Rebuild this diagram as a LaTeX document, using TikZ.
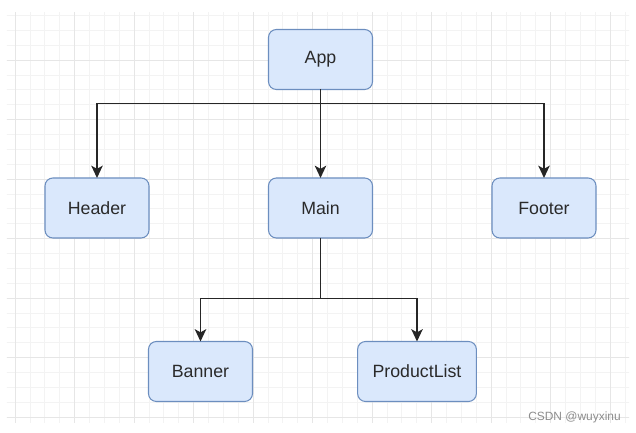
\documentclass[tikz,border=0pt]{standalone}
\usepackage{fontspec}
\setmainfont{Liberation Sans}
\usepackage{tkz-graph}
\usetikzlibrary{arrows.meta}
\definecolor{boxfill}{HTML}{DAE8FC}
\definecolor{boxline}{HTML}{6C8EBF}
\definecolor{boxtext}{HTML}{2A2A2A}
\definecolor{gridminor}{HTML}{F3F3F3}
\definecolor{gridmajor}{HTML}{E6E6E6}
\newcommand{\wire}{black!85}

\begin{document}
\begin{tikzpicture}
        \useasboundingbox (0,0) rectangle (12.72,8.66);
        % page grid
        \begin{scope}
            \clip (0.14,0.2) rectangle (12.58,8.4);
            \begin{scope}[shift={(0.3,7.46)}]
                \draw[gridminor, line width=0.35pt, step=0.2975] (-0.3,-7.5) grid (12.5,1.2);
                \draw[gridmajor, line width=0.45pt, step=1.19] (-0.3,-7.5) grid (12.5,1.2);
            \end{scope}
        \end{scope}
        %\GraphInit[vstyle=Classic]
        \tikzset{VertexStyle/.style = {shape = rectangle, rounded corners = 4.5pt,
            draw = boxline, fill = boxfill, line width = 0.6pt, text = boxtext,
            minimum width = 2.08cm, minimum height = 1.2cm, inner xsep = 0.3cm,
            font = \fontsize{10.1}{12}\selectfont}}
        \tikzset{link/.style = {draw = \wire, line width = 1.05pt,
            -{Stealth[length=7pt, width=6.5pt, inset=1.8pt]}}}
        \Vertex[x=6.41, y=7.47]{App}
        \Vertex[x=1.94, y=4.50]{Header}
        \Vertex[x=6.41, y=4.50]{Main}
        \Vertex[x=10.88, y=4.50]{Footer}
        \Vertex[x=4.01, y=1.23]{Banner}
        \Vertex[x=8.34, y=1.23]{ProductList}
        \draw[link] (App.south) -- ++(0,-0.28) coordinate (appfork) -| (Header);
        \draw[link] (appfork) -| (Footer);
        \draw[link] (App) -- (Main);
        \draw[link] (Main.south) -- ++(0,-1.21) coordinate (mainfork) -| (Banner);
        \draw[link] (mainfork) -| (ProductList);
        \node[text = black!45, font = \fontsize{6.8}{8}\selectfont] (mark) at (11.49,0.32) {CSDN @wuyxinu};
    \end{tikzpicture}
\end{document}
